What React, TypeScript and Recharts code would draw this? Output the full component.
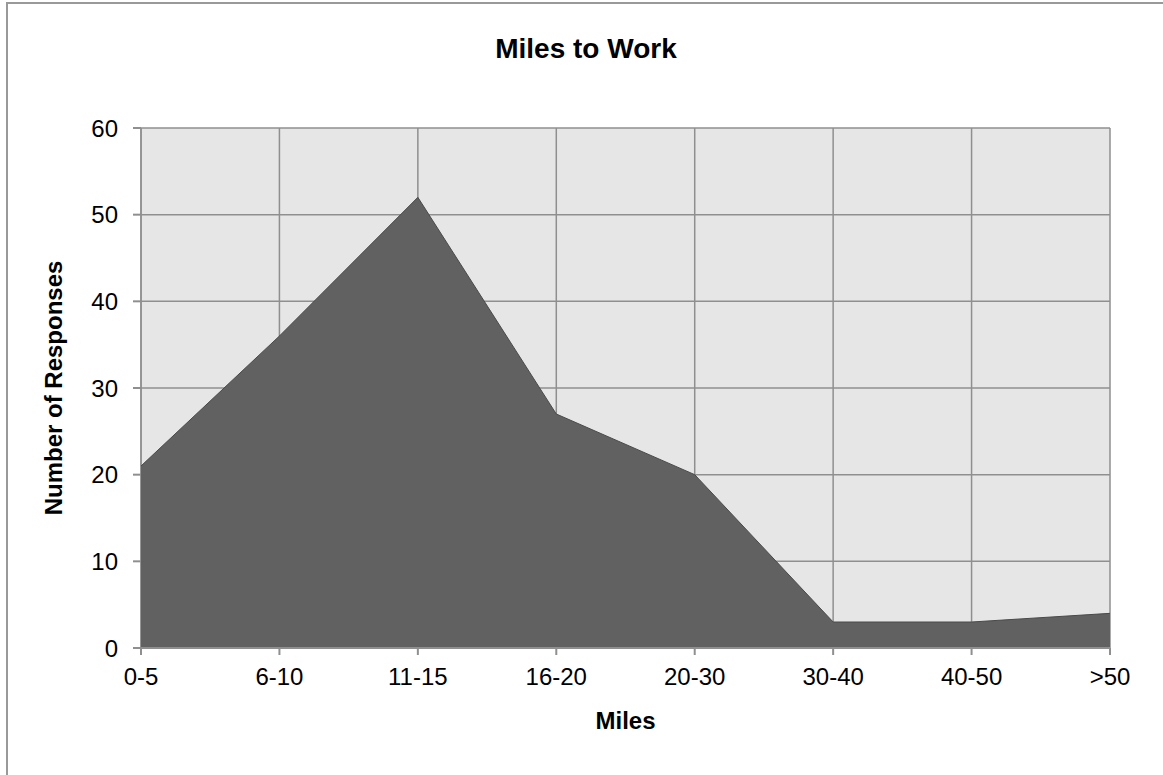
import { AreaChart, Area, XAxis, YAxis, CartesianGrid } from "recharts";

const categories = ["0-5", "6-10", "11-15", "16-20", "20-30", "30-40", "40-50", ">50"];
const responses = [21, 36, 52, 27, 20, 3, 3, 4];
const yTicks = [0, 10, 20, 30, 40, 50, 60];

const data = categories.map((c, i) => ({ miles: c, count: responses[i] }));

const FONT = "'Liberation Sans', Arial, sans-serif";
const GRID = "#8f8f8f";

const XLabel = ({ viewBox }: any) => {
  const { x, y, width } = viewBox;
  return (
    <text x={x + width / 2} y={y + 81} textAnchor="middle" fontFamily={FONT} fontSize={24} fontWeight={700} fill="#000">
      Miles
    </text>
  );
};

const YLabel = ({ viewBox }: any) => {
  const { x, y, height } = viewBox;
  const lx = x + 21;
  const cy = y + height / 2;
  return (
    <text x={lx} y={cy} transform={`rotate(-90 ${lx} ${cy})`} textAnchor="middle" fontFamily={FONT} fontSize={24} fontWeight={700} fill="#000">
      Number of Responses
    </text>
  );
};

export default function App() {
  return (
    <div style={{ position: "absolute", left: 0, top: 0, width: 1163, height: 775, overflow: "hidden", background: "#fff" }}>
      <div
        style={{
          position: "absolute",
          left: 6,
          top: 2,
          width: 1200,
          height: 800,
          borderTop: "2px solid #999",
          borderLeft: "2px solid #999",
        }}
      />
      <div style={{ position: "absolute", left: 0, top: 0 }}>
        <AreaChart width={1163} height={775} data={data} margin={{ top: 128, right: 53, bottom: 67, left: 41 }}>
          <CartesianGrid stroke={GRID} strokeWidth={1.5} fill="#e6e6e6" fillOpacity={1} />
          <XAxis
            dataKey="miles"
            height={60}
            tickSize={7}
            tickMargin={13}
            interval={0}
            stroke={GRID}
            strokeWidth={2}
            tick={{ fill: "#000", fontSize: 24, fontFamily: FONT }}
            label={<XLabel />}
          />
          <YAxis
            width={100}
            domain={[0, 60]}
            ticks={yTicks}
            tickSize={8}
            tickMargin={15}
            axisLine={false}
            stroke={GRID}
            strokeWidth={2}
            tick={{ fill: "#000", fontSize: 24, fontFamily: FONT }}
            label={<YLabel />}
          />
          <Area
            type="linear"
            dataKey="count"
            fill="#616161"
            fillOpacity={1}
            stroke="#4a4a4a"
            strokeWidth={1}
            dot={false}
            activeDot={false}
            isAnimationActive={false}
          />
        </AreaChart>
      </div>
      <svg width={1163} height={100} style={{ position: "absolute", left: 0, top: 0 }}>
        <text x={586} y={58} textAnchor="middle" fontFamily={FONT} fontSize={28} fontWeight={700} fill="#000">
          Miles to Work
        </text>
      </svg>
    </div>
  );
}
